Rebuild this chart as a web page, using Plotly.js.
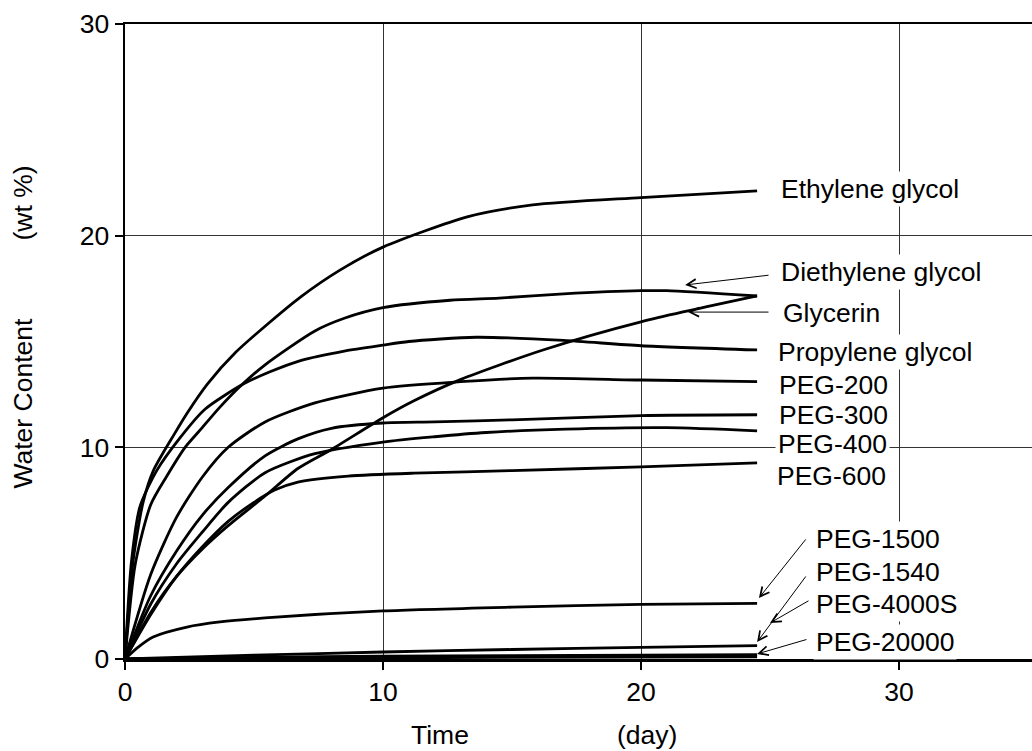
<!DOCTYPE html>
<html>
<head>
<meta charset="utf-8">
<script src="https://cdn.plot.ly/plotly-3.0.1.min.js"></script>
<style>html,body{margin:0;padding:0;background:#fff;}#chart{width:1032px;height:751px;}</style>
</head>
<body>
<div id="chart"></div>
<script>
// ---- data (Time in days, Water content in wt %) ----
var seriesNames = ["Ethylene glycol","Diethylene glycol","Glycerin","Propylene glycol","PEG-200","PEG-300","PEG-400","PEG-600","PEG-1500","PEG-1540","PEG-4000S","PEG-20000"];

var ethyleneDays  = [0, 0.3, 0.7, 1.1, 1.9, 2.4, 3.2, 4.3, 5.6, 6.8, 8.3, 10, 13.3, 15.8, 20, 24.5];
var ethyleneWater = [0, 4.5, 7.4, 8.9, 10.6, 11.6, 13.0, 14.5, 15.9, 17.1, 18.35, 19.46, 20.9, 21.45, 21.8, 22.12];

var diethyleneDays  = [0, 0.4, 1.0, 1.6, 2.33, 2.9, 3.68, 4.57, 5.43, 7.36, 8.5, 10, 12.6, 14.5, 17, 20, 21, 24.5];
var diethyleneWater = [0, 4.5, 7.3, 8.6, 10.0, 10.8, 11.9, 13.0, 13.9, 15.5, 16.1, 16.6, 16.95, 17.05, 17.25, 17.4, 17.4, 17.15];

var glycerinDays  = [0, 1, 2, 3, 4, 5.43, 6.7, 8, 10, 11.2, 13, 16.2, 20, 24.5];
var glycerinWater = [0, 2.2, 3.9, 5.2, 6.3, 7.7, 9.0, 9.9, 11.4, 12.2, 13.2, 14.6, 15.93, 17.15];

var propyleneDays  = [0, 0.25, 0.58, 1.23, 2.1, 3.1, 4.6, 5.62, 6.8, 8.5, 10, 11, 13.6, 17, 20, 24.5];
var propyleneWater = [0, 4.6, 7.2, 8.9, 10.4, 11.8, 13.0, 13.57, 14.1, 14.55, 14.83, 15.0, 15.2, 15.05, 14.8, 14.6];

var peg200Days  = [0, 1, 2, 3, 4, 5.43, 7.36, 10, 13, 15.8, 20, 24.5];
var peg200Water = [0, 4.0, 6.7, 8.6, 10.0, 11.2, 12.1, 12.8, 13.1, 13.27, 13.18, 13.1];

var peg300Days  = [0, 1, 2, 3, 4, 5.43, 6.7, 8, 10, 12, 15, 20, 24.5];
var peg300Water = [0, 3.0, 5.1, 6.8, 8.1, 9.6, 10.4, 10.9, 11.15, 11.2, 11.3, 11.5, 11.54];

var peg400Days  = [0, 1, 2, 3, 4, 5.43, 7.36, 10, 12, 14, 17.1, 21, 24.5];
var peg400Water = [0, 2.6, 4.5, 6.0, 7.4, 8.8, 9.7, 10.25, 10.5, 10.7, 10.86, 10.93, 10.78];

var peg600Days  = [0, 1, 2, 3, 4, 5, 5.8, 6.7, 8.65, 11.2, 15, 20, 24.5];
var peg600Water = [0, 2.1, 3.9, 5.3, 6.5, 7.4, 7.98, 8.36, 8.64, 8.78, 8.9, 9.08, 9.27];

var peg1500Days  = [0, 0.5, 1.09, 2.4, 3.68, 5.43, 10, 15, 20, 24.5];
var peg1500Water = [0, 0.55, 1.04, 1.51, 1.75, 1.94, 2.27, 2.45, 2.58, 2.63];

var peg1540Days  = [0, 5, 10, 15, 20, 24.5];
var peg1540Water = [0, 0.18, 0.33, 0.45, 0.55, 0.63];

var peg4000sDays  = [0, 5, 10, 15, 20, 24.5];
var peg4000sWater = [0, 0.08, 0.13, 0.16, 0.18, 0.2];

var peg20000Days  = [0, 10, 24.5];
var peg20000Water = [0, 0.06, 0.1];

var xTickVals = [0, 10, 20, 30];
var yTickVals = [0, 10, 20, 30];

// ---- traces ----
var allDays  = [ethyleneDays, diethyleneDays, glycerinDays, propyleneDays, peg200Days, peg300Days, peg400Days, peg600Days, peg1500Days, peg1540Days, peg4000sDays, peg20000Days];
var allWater = [ethyleneWater, diethyleneWater, glycerinWater, propyleneWater, peg200Water, peg300Water, peg400Water, peg600Water, peg1500Water, peg1540Water, peg4000sWater, peg20000Water];

var traces = seriesNames.map(function (name, i) {
  return {
    x: allDays[i], y: allWater[i], name: name, type: 'scatter', mode: 'lines',
    line: {color: '#000', width: 2.8, shape: 'spline', smoothing: 0.7},
    hoverinfo: 'x+y+name'
  };
});

// ---- label layout (positions of text labels & arrows) ----
var FONT = 'Liberation Sans, Arial, Helvetica, sans-serif';
var FS = 26.5;
var labelPos = [
  [25.3, 22.2], [25.3, 18.28], [25.38, 16.34], [25.2, 14.5], [25.25, 12.94], [25.25, 11.53],
  [25.2, 10.16], [25.15, 8.64], [26.65, 5.67], [26.65, 4.11], [26.65, 2.6], [26.65, 0.8]
];
var annotations = seriesNames.map(function (name, i) {
  return {
    x: labelPos[i][0], y: labelPos[i][1], xref: 'x', yref: 'y', text: name,
    showarrow: false, xanchor: 'left', yanchor: 'middle',
    bgcolor: '#ffffff', borderpad: 2,
    font: {family: FONT, size: FS, color: '#000'}
  };
});
// arrows: [tipX, tipY, tailX, tailY]
var arrows = [
  [21.71, 17.67, 25.0, 18.14],
  [21.82, 16.39, 25.0, 16.39],
  [24.57, 2.88, 26.43, 5.72],
  [24.5, 0.8, 26.43, 3.97],
  [25.0, 1.70, 26.55, 2.79],
  [24.5, 0.24, 26.47, 0.94]
];
arrows.forEach(function (a) {
  annotations.push({
    x: a[0], y: a[1], xref: 'x', yref: 'y', ax: a[2], ay: a[3], axref: 'x', ayref: 'y',
    text: '', showarrow: true, arrowhead: 5, arrowsize: 1.8, arrowwidth: 1, arrowcolor: '#000',
    standoff: 0, startstandoff: 0
  });
});
// axis titles (split as in the original)
annotations.push({xref: 'paper', yref: 'paper', x: -0.112, y: 0.403, text: 'Water Content', textangle: -90, showarrow: false, xanchor: 'center', yanchor: 'middle', font: {family: FONT, size: FS, color: '#000'}});
annotations.push({xref: 'paper', yref: 'paper', x: -0.112, y: 0.718, text: '(wt %)', textangle: -90, showarrow: false, xanchor: 'center', yanchor: 'middle', font: {family: FONT, size: FS, color: '#000'}});
annotations.push({xref: 'paper', yref: 'paper', x: 0.347, y: -0.12, text: 'Time', showarrow: false, xanchor: 'center', yanchor: 'middle', font: {family: FONT, size: FS, color: '#000'}});
annotations.push({xref: 'paper', yref: 'paper', x: 0.5755, y: -0.12, text: '(day)', showarrow: false, xanchor: 'center', yanchor: 'middle', font: {family: FONT, size: FS, color: '#000'}});

var layout = {
  width: 1032, height: 751,
  margin: {l: 125, r: 0, t: 24, b: 92, pad: 0},
  paper_bgcolor: '#fff', plot_bgcolor: '#fff',
  showlegend: false,
  font: {family: FONT, size: FS, color: '#000'},
  xaxis: {
    range: [0, 35.155], tickvals: xTickVals, ticktext: xTickVals.map(String),
    showline: true, linecolor: '#000', linewidth: 2.5, mirror: true,
    ticks: 'outside', ticklen: 8, tickwidth: 2, tickcolor: '#000',
    showgrid: true, gridcolor: '#333', gridwidth: 1, zeroline: false,
    tickfont: {family: FONT, size: FS, color: '#000'}
  },
  yaxis: {
    range: [0, 30], tickvals: yTickVals, ticktext: yTickVals.map(String),
    showline: true, linecolor: '#000', linewidth: 2.5,
    ticks: 'outside', ticklen: 8, tickwidth: 2, tickcolor: '#000',
    showgrid: true, gridcolor: '#333', gridwidth: 1, zeroline: false,
    tickfont: {family: FONT, size: FS, color: '#000'}
  },
  annotations: annotations
};

Plotly.newPlot('chart', traces, layout, {displayModeBar: false, staticPlot: true});
</script>
</body>
</html>
